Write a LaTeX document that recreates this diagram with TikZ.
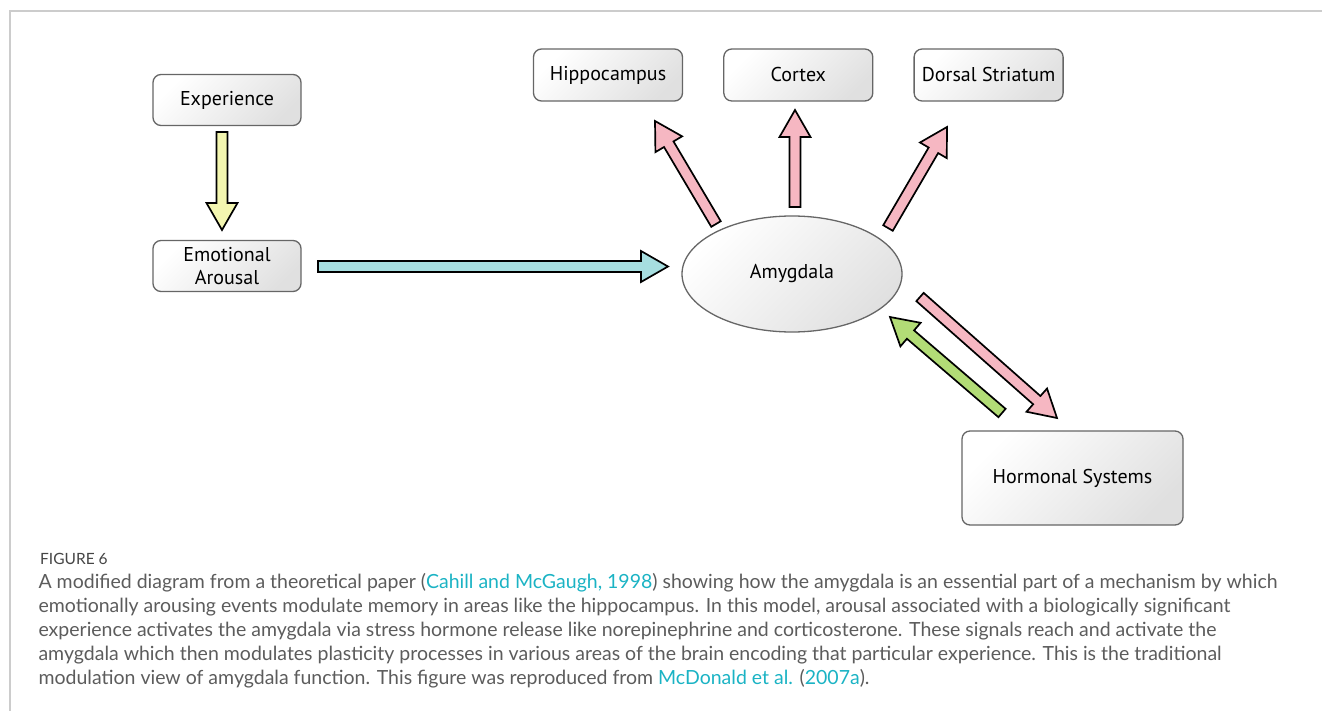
\documentclass[tikz,border=0pt]{standalone}
\usepackage{fontspec}
\usepackage{xcolor}
\usetikzlibrary{positioning, calc, shapes.geometric}
\newfontfamily\labelfont{PT Sans}
\newfontfamily\capfont{Lato}
\definecolor{framegray}{HTML}{CCCCCC}
\definecolor{boxline}{HTML}{666666}
\definecolor{expyellow}{HTML}{F3F6B0}
\definecolor{arousecyan}{HTML}{A6DEE0}
\definecolor{outpink}{HTML}{F6B7C2}
\definecolor{hormgreen}{HTML}{B2DC76}
\definecolor{captext}{HTML}{5C5C5C}
\definecolor{citelink}{HTML}{1BB3C4}
\tikzset{
  region/.style={rectangle, rounded corners=8pt, draw=boxline, line width=1.3pt, top color=white, bottom color=gray!24, shading angle=45, minimum width=149pt, minimum height=52pt, align=center, text=black, font=\labelfont\fontsize{20}{23}\selectfont},
  nucleus/.style={ellipse, draw=boxline, line width=1.3pt, top color=white, bottom color=gray!24, shading angle=45, minimum width=220pt, minimum height=116pt, text=black, font=\labelfont\fontsize{20}{23}\selectfont},
  blockline/.style={draw=black, line width=1.7pt, line join=miter},
  caption/.style={anchor=north west, align=left, text=captext, font=\capfont\fontsize{19.5}{24}\selectfont}
}
\newcommand{\blockarrow}[3]{%
  \coordinate (headbase) at ($(#3)!27pt!(#2)$);
  \draw [blockline, fill=#1] ($(#2)!5.5pt!90:(#3)$) -- ($(headbase)!5.5pt!90:(#3)$) -- ($(headbase)!15.5pt!90:(#3)$) -- (#3) -- ($(headbase)!15.5pt!-90:(#3)$) -- ($(headbase)!5.5pt!-90:(#3)$) -- ($(#2)!5.5pt!-90:(#3)$) -- cycle;
}

\begin{document}
\begin{tikzpicture}[x=1pt, y=-1pt]
        \useasboundingbox (0,0) rectangle (1322,711);
        \draw [framegray, line width=1.5pt] (1322,11) -- (10,11) -- (10,711);

        \node (exp) [region, minimum width=148pt, minimum height=51pt] at (227,100) {Experience};
        \node (emo) [region, minimum width=148pt, minimum height=51pt] at (227,266) {Emotional\\Arousal};
        \node (hippo) [region] at (608,75) {Hippocampus};
        \node (cortex) [region, right=40pt of hippo] {Cortex};
        \node (dorsal) [region, right=40pt of cortex] {Dorsal Striatum};
        \node (amyg) [nucleus] at (792,274) {Amygdala};
        \node (horm) [region, minimum width=221pt, minimum height=94pt] at (1072.5,478) {Hormonal Systems};

        \coordinate (expout) at (222,132);
        \coordinate (emoin) at (222,230);
        \coordinate (emoout) at (318,266.5);
        \coordinate (amygin) at (668,266.5);
        \coordinate (hippoout) at (716,224);
        \coordinate (hippoin) at (655,121);
        \coordinate (cortexout) at (795,207);
        \coordinate (cortexin) at (795,110);
        \coordinate (dorsalout) at (888,228);
        \coordinate (dorsalin) at (947,127);
        \coordinate (hormout) at (920,297);
        \coordinate (hormin) at (1057,418);
        \coordinate (backout) at (1002,413);
        \coordinate (backin) at (890,317);

        \blockarrow{expyellow}{expout}{emoin}
        \blockarrow{arousecyan}{emoout}{amygin}
        \blockarrow{outpink}{hippoout}{hippoin}
        \blockarrow{outpink}{cortexout}{cortexin}
        \blockarrow{outpink}{dorsalout}{dorsalin}
        \blockarrow{outpink}{hormout}{hormin}
        \blockarrow{hormgreen}{backout}{backin}

        \node (figlabel) [anchor=base west, inner sep=0pt, text=captext!75!black, font=\capfont\fontsize{15.5}{18}\selectfont] at (40,564) {FIGURE 6};
        \node (caption) [caption] at (35,570) {A modified diagram from a theoretical paper (\textcolor{citelink}{Cahill and McGaugh, 1998}) showing how the amygdala is an essential part of a mechanism by which\\
emotionally arousing events modulate memory in areas like the hippocampus. In this model, arousal associated with a biologically significant\\
experience activates the amygdala via stress hormone release like norepinephrine and corticosterone. These signals reach and activate the\\
amygdala which then modulates plasticity processes in various areas of the brain encoding that particular experience. This is the traditional\\
modulation view of amygdala function. This figure was reproduced from \textcolor{citelink}{McDonald et al.} (\textcolor{citelink}{2007a}).};
\end{tikzpicture}
\end{document}
